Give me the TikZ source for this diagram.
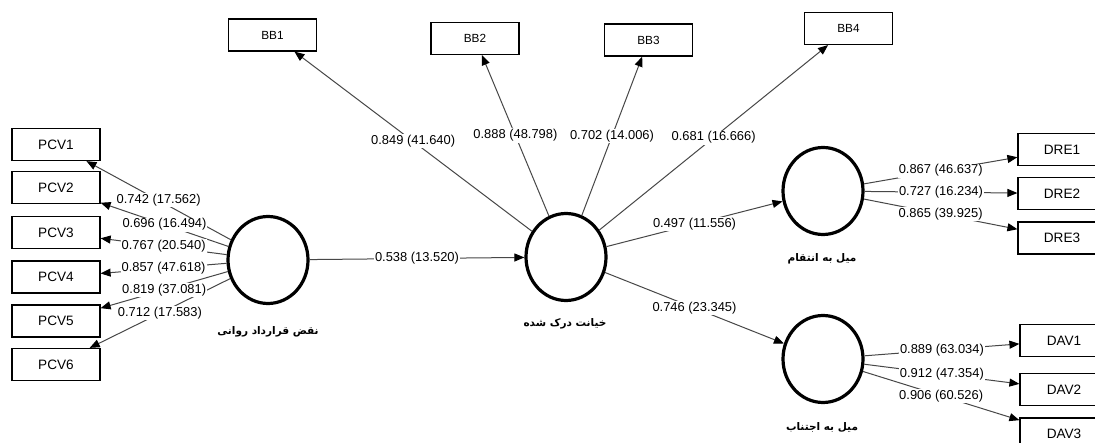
\documentclass[tikz,border=0pt]{standalone}
\usepackage{fontspec}
\setmainfont{Liberation Sans}
\newfontfamily\fa[Script=Arabic]{DejaVu Sans}
\TeXXeTstate=1
\usetikzlibrary{arrows.meta,shapes.geometric}
\begin{document}
\begin{tikzpicture}[x=1pt,y=-1pt,
  box/.style={draw,line width=1.2pt,minimum width=88pt,minimum height=32pt,inner sep=0pt,font=\fontsize{13.6}{14}\selectfont},
  bbox/.style={box,font=\fontsize{11.8}{12}\selectfont},
  lv/.style={ellipse,draw,line width=3.2pt,minimum width=80pt,minimum height=87pt,inner sep=0pt},
  con/.style={draw=black!72,line width=1pt,-{Triangle[length=10pt,width=8pt,black]}},
  lbl/.style={fill=white,inner sep=1pt,font=\fontsize{12.9}{13}\selectfont},
  fal/.style={font=\fa\bfseries\fontsize{10.5}{12}\selectfont}
]
\useasboundingbox (0,0) rectangle (1095,443);
\fill[white] (0,0) rectangle (1095,443);
\clip (0,0) rectangle (1095,443);

% latent variables
\node[lv] (pcv) at (268,260) {};
\node[lv] (bb) at (566,257) {};
\node[lv] (dre) at (823,191) {};
\node[lv] (dav) at (823,359) {};

\node[fal] (tpcv) at (268,332) {\beginR نقض قرارداد روانی\endR};
\node[fal] (tbb) at (565,324) {\beginR خیانت درک شده\endR};
\node[fal] (tdre) at (822,259) {\beginR میل به انتقام\endR};
\node[fal] (tdav) at (822,427) {\beginR میل به اجتناب\endR};

% indicators
\node[bbox] (BB1) at (272.5,35) {BB1};
\node[bbox] (BB2) at (475,38.5) {BB2};
\node[bbox] (BB3) at (648.5,40) {BB3};
\node[bbox] (BB4) at (848.5,28.5) {BB4};

\node[box] (PCV1) at (56,144.5) {PCV1};
\node[box] (PCV2) at (56,187.5) {PCV2};
\node[box] (PCV3) at (56,232.5) {PCV3};
\node[box] (PCV4) at (56,277) {PCV4};
\node[box] (PCV5) at (56,321) {PCV5};
\node[box] (PCV6) at (56,364.5) {PCV6};

\node[box] (DRE1) at (1062,149.5) {DRE1};
\node[box] (DRE2) at (1062,193.5) {DRE2};
\node[box] (DRE3) at (1062,238) {DRE3};

\node[box] (DAV1) at (1064,340.5) {DAV1};
\node[box] (DAV2) at (1064,389.5) {DAV2};
\node[box] (DAV3) at (1064,434) {DAV3};

\def\links{pcv/PCV1/0.742 (17.562),pcv/PCV2/0.696 (16.494),pcv/PCV3/0.767 (20.540),pcv/PCV4/0.857 (47.618),pcv/PCV5/0.819 (37.081),pcv/PCV6/0.712 (17.583),bb/BB1/0.849 (41.640),bb/BB2/0.888 (48.798),bb/BB3/0.702 (14.006),bb/BB4/0.681 (16.666),dre/DRE1/0.867 (46.637),dre/DRE2/0.727 (16.234),dre/DRE3/0.865 (39.925),dav/DAV1/0.889 (63.034),dav/DAV2/0.912 (47.354),dav/DAV3/0.906 (60.526),pcv/bb/0.538 (13.520),bb/dre/0.497 (11.556),bb/dav/0.746 (23.345)}

\foreach \a/\b/\l in \links {\draw[con] (\a) -- (\b);}
\foreach \a/\b/\l in \links {\path (\a) -- node[lbl] {\l} (\b);}
\end{tikzpicture}
\end{document}
